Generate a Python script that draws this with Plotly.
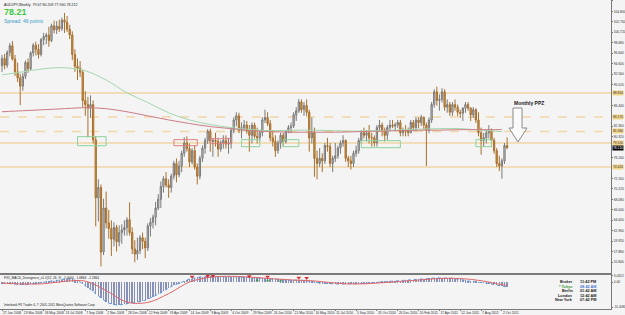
import pandas as pd
import plotly.graph_objects as go

# ---------------- data ----------------
week_start = "2008-01-27"
n_weeks = 195
weeks = pd.date_range(week_start, periods=n_weeks, freq="7D")

opens = [94.2, 95.6, 94.3, 96.8, 98.1, 95.5, 93.0, 91.8, 90.2, 92.1,
         94.8, 93.6, 96.7, 98.2, 97.4, 96.4, 99.3, 99.9, 100.2, 99.1,
         102.0, 101.2, 101.9, 101.4, 103.1, 102.7, 101.3, 100.2, 96.4, 94.1,
         93.7, 92.9, 87.4, 86.6, 85.9, 86.6, 79.7, 68.4, 70.4, 57.8,
         66.4, 63.5, 62.4, 60.3, 62.6, 59.8, 61.6, 62.1, 62.6, 64.1,
         61.6, 58.4, 57.4, 58.1, 60.6, 59.9, 58.6, 62.9, 63.6, 64.6,
         66.4, 68.1, 70.6, 72.1, 70.9, 70.4, 72.6, 75.1, 72.9, 74.6,
         77.1, 79.1, 78.0, 75.4, 77.6, 74.4, 72.6, 76.1, 78.1, 79.6,
         81.4, 79.4, 79.6, 79.4, 77.9, 79.1, 79.6, 78.9, 79.1, 81.6,
         83.6, 84.4, 81.6, 82.1, 82.6, 81.4, 80.6, 82.6, 80.4, 80.1,
         81.1, 83.6, 84.1, 82.9, 80.1, 79.4, 77.6, 79.1, 80.6, 79.4,
         81.4, 82.1, 82.4, 84.6, 85.4, 87.1, 85.6, 86.4, 85.1, 80.1,
         81.1, 76.1, 75.1, 76.1, 75.6, 78.6, 78.4, 75.1, 76.1, 76.6,
         78.1, 79.1, 79.6, 76.1, 75.6, 75.1, 77.1, 77.6, 79.6, 81.1,
         80.6, 81.1, 80.1, 80.1, 79.1, 82.1, 82.6, 81.6, 80.6, 82.1,
         82.6, 82.4, 82.6, 83.1, 81.1, 81.6, 81.4, 81.1, 83.1, 82.1,
         83.6, 83.1, 84.1, 82.6, 81.6, 83.6, 86.6, 89.1, 87.4, 87.6,
         89.1, 86.1, 86.6, 85.1, 86.6, 86.1, 85.1, 84.9, 85.9, 86.6,
         85.9, 84.6, 85.6, 83.6, 81.1, 79.6, 80.1, 81.1, 81.4, 79.6,
         77.6, 75.1, 74.6, 75.6, 78.6]
highs = [96.3, 96.5, 97.2, 98.6, 99.0, 96.3, 94.8, 92.6, 92.8, 95.2,
         95.6, 97.0, 98.6, 98.9, 98.4, 99.6, 100.6, 100.6, 101.8, 102.4,
         103.0, 102.9, 103.2, 103.6, 104.5, 103.9, 102.2, 100.9, 97.4, 95.6,
         95.1, 93.4, 89.2, 88.1, 88.4, 87.4, 80.4, 72.0, 71.0, 68.2,
         69.6, 66.0, 64.0, 63.6, 63.1, 63.0, 63.2, 64.0, 64.6, 67.5,
         62.6, 60.1, 60.6, 61.1, 61.6, 60.6, 63.4, 64.4, 65.1, 67.6,
         69.1, 71.6, 72.6, 73.4, 72.0, 73.1, 75.6, 76.1, 75.6, 77.6,
         80.2, 80.4, 79.0, 78.1, 78.6, 75.1, 76.6, 78.6, 80.1, 81.8,
         81.9, 80.1, 81.1, 80.1, 79.6, 80.6, 80.6, 80.1, 82.1, 84.1,
         85.1, 85.0, 83.1, 83.6, 83.4, 82.6, 83.1, 83.1, 82.1, 81.6,
         84.1, 85.6, 85.1, 83.6, 81.6, 80.6, 79.6, 81.1, 81.1, 81.6,
         82.6, 83.1, 85.1, 86.1, 87.7, 87.6, 87.1, 87.6, 85.6, 84.1,
         82.1, 77.6, 78.1, 77.1, 79.1, 80.1, 79.1, 76.6, 79.1, 78.6,
         79.6, 80.6, 79.8, 76.6, 76.6, 77.6, 78.6, 80.1, 81.6, 82.1,
         81.6, 82.6, 81.1, 80.6, 82.6, 83.6, 83.1, 82.1, 82.6, 83.6,
         83.6, 83.1, 83.6, 83.6, 82.1, 82.6, 82.1, 83.6, 83.6, 84.1,
         84.1, 84.6, 84.3, 83.1, 84.1, 87.1, 89.6, 90.1, 88.6, 89.8,
         89.6, 87.6, 87.1, 87.1, 87.6, 86.6, 85.6, 86.1, 87.1, 87.1,
         86.1, 86.1, 85.9, 85.1, 82.1, 81.1, 81.6, 82.6, 81.9, 80.1,
         78.1, 76.6, 76.1, 79.1, 80.2]
lows = [93.0, 93.5, 93.8, 96.0, 95.2, 92.2, 91.0, 86.5, 89.3, 91.6,
        92.8, 93.2, 96.0, 96.2, 95.6, 96.0, 98.2, 98.4, 97.9, 98.8,
        100.5, 100.4, 100.8, 101.0, 100.6, 100.8, 99.4, 95.3, 93.0, 91.4,
        92.0, 86.1, 84.4, 80.2, 84.0, 79.0, 62.8, 63.8, 55.0, 57.2,
        62.4, 60.4, 57.0, 58.9, 57.9, 58.9, 59.4, 61.0, 61.0, 61.0,
        57.4, 55.8, 56.3, 57.4, 58.4, 56.6, 58.0, 60.8, 62.4, 63.0,
        66.0, 66.4, 69.4, 70.4, 68.4, 69.4, 72.0, 71.4, 72.4, 73.4,
        76.4, 77.4, 74.4, 74.9, 73.9, 71.0, 72.0, 75.4, 77.0, 78.9,
        77.4, 76.4, 78.4, 76.4, 77.4, 78.0, 78.0, 77.0, 78.0, 81.0,
        82.4, 81.0, 80.0, 81.4, 80.9, 77.4, 79.0, 80.0, 79.0, 79.4,
        80.4, 83.0, 82.4, 79.4, 78.4, 76.4, 77.0, 78.0, 78.4, 79.0,
        81.0, 81.0, 82.0, 83.4, 85.0, 85.0, 84.4, 84.4, 77.4, 79.0,
        72.5, 72.0, 74.4, 73.4, 75.0, 77.4, 74.4, 73.4, 75.4, 76.0,
        77.0, 78.4, 75.4, 74.4, 73.9, 74.4, 76.4, 77.0, 79.0, 80.0,
        79.4, 79.0, 78.4, 78.4, 78.4, 81.4, 80.4, 79.4, 79.7, 81.4,
        82.0, 81.4, 82.0, 80.4, 80.4, 80.4, 80.4, 81.0, 81.4, 81.4,
        82.0, 82.4, 81.8, 74.6, 81.0, 83.0, 86.0, 86.4, 85.4, 87.0,
        85.4, 85.0, 84.4, 84.4, 85.4, 84.4, 84.0, 83.4, 85.0, 85.4,
        83.4, 84.0, 83.0, 80.4, 76.8, 78.4, 79.0, 80.0, 78.4, 77.0,
        74.4, 73.6, 72.1, 75.0, 77.9]
closes = [95.6, 94.3, 96.8, 98.1, 95.5, 93.0, 91.8, 90.2, 92.1, 94.8,
          93.6, 96.7, 98.2, 97.4, 96.4, 99.3, 99.9, 100.2, 99.1, 102.0,
          101.2, 101.9, 101.4, 103.1, 102.7, 101.3, 100.2, 96.4, 94.1, 93.7,
          92.9, 87.4, 86.6, 85.9, 86.6, 79.7, 68.4, 70.4, 57.8, 66.4,
          63.5, 62.4, 60.3, 62.6, 59.8, 61.6, 62.1, 62.6, 64.1, 61.6,
          58.4, 57.4, 58.1, 60.6, 59.9, 58.6, 62.9, 63.6, 64.6, 66.4,
          68.1, 70.6, 72.1, 70.9, 70.4, 72.6, 75.1, 72.9, 74.6, 77.1,
          79.1, 78.0, 75.4, 77.6, 74.4, 72.6, 76.1, 78.1, 79.6, 81.4,
          79.4, 79.6, 79.4, 77.9, 79.1, 79.6, 78.9, 79.1, 81.6, 83.6,
          84.4, 81.6, 82.1, 82.6, 81.4, 80.6, 82.6, 80.4, 80.1, 81.1,
          83.6, 84.1, 82.9, 80.1, 79.4, 77.6, 79.1, 80.6, 79.4, 81.4,
          82.1, 82.4, 84.6, 85.4, 87.1, 85.6, 86.4, 85.1, 80.1, 81.1,
          76.1, 75.1, 76.1, 75.6, 78.6, 78.4, 75.1, 76.1, 76.6, 78.1,
          79.1, 79.6, 76.1, 75.6, 75.1, 77.1, 77.6, 79.6, 81.1, 80.6,
          81.1, 80.1, 80.1, 79.1, 82.1, 82.6, 81.6, 80.6, 82.1, 82.6,
          82.4, 82.6, 83.1, 81.1, 81.6, 81.4, 81.1, 83.1, 82.1, 83.6,
          83.1, 84.1, 82.6, 81.6, 83.6, 86.6, 89.1, 87.4, 87.6, 89.1,
          86.1, 86.6, 85.1, 86.6, 86.1, 85.1, 84.9, 85.9, 86.6, 85.9,
          84.6, 85.6, 83.6, 81.1, 79.6, 80.1, 81.1, 81.4, 79.6, 77.6,
          75.1, 74.6, 75.6, 78.6, 78.21]

# moving averages, read every 8 weeks
ma_step = 8
ma_green = [92.4, 93.0, 93.6, 93.8, 93.2, 91.4, 88.9, 87.0, 85.0, 83.6,
            82.7, 82.1, 81.7, 81.5, 81.6, 81.6, 81.5, 81.4, 81.5, 81.6,
            81.8, 81.9, 81.9, 81.6, 81.3]
ma_red = [85.2, 85.4, 85.6, 85.8, 86.0, 85.8, 85.2, 84.4, 83.6, 82.9,
          82.3, 81.9, 81.5, 81.3, 81.2, 81.2, 81.2, 81.3, 81.4, 81.5,
          81.6, 81.6, 81.7, 81.7, 81.7]

# price-axis tick labels
price_ticks = [106.84, 104.80, 102.76, 100.72, 98.68, 96.64, 94.60, 92.56, 90.52,
               86.44, 82.36, 80.32, 76.24, 72.16, 70.12, 68.08, 66.04, 64.00,
               61.96, 59.92, 57.88, 55.84]

# horizontal levels
level_prices = [88.85, 84.17, 81.36, 79.10, 74.42]
level_dash = ["solid", "dash", "dash", "solid", "solid"]
current_price = 78.21

# drawn zones: (first week index, last week index, top price, bottom price, colour)
zone_start = [29, 66, 80, 92, 108, 138, 182]
zone_end = [40, 75, 88, 99, 114, 153, 188]
zone_top = [80.33, 79.75, 79.94, 79.75, 79.75, 79.55, 79.75]
zone_bottom = [78.57, 78.57, 78.97, 78.38, 78.38, 78.18, 78.38]
zone_kind = ["green", "red", "red", "green", "green", "green", "green"]

# MACD main (weekly)
macd_main = [-0.5, -0.6, -0.7, -0.7, -0.8, -1.0, -1.2, -1.3,
             -1.3, -1.2, -1.1, -0.9, -0.8, -0.6, -0.5,
             -0.3, -0.1, 0.1, 0.3, 0.4, 0.6, 0.7, 0.8,
             1.0, 1.3, 1.5, 1.5,
             1.2, 0.8, 0.4, 0.0,
             -0.8, -1.6, -2.5, -3.5,
             -4.3, -5.4, -6.4, -7.3,
             -8.2, -9.0, -9.6,
             -10.0, -10.3, -10.4, -10.5,
             -10.3, -10.1, -9.8, -9.6,
             -9.5, -9.4, -9.2, -9.1,
             -8.7, -8.3, -7.8, -7.3,
             -6.8, -6.2, -5.6, -5.0,
             -4.2, -3.4, -2.7,
             -2.1, -1.5, -1.0, -0.5,
             0.0, 0.5, 1.0, 1.4,
             1.6, 1.9, 2.1, 2.3,
             2.4, 2.4, 2.5, 2.6, 2.6, 2.7, 2.7, 2.7,
             2.7, 2.6, 2.6, 2.5, 2.5, 2.4, 2.3,
             2.3, 2.2, 2.1, 2.1, 2.0, 1.9, 1.9, 1.8,
             1.7, 1.6, 1.5, 1.4, 1.3, 1.2, 1.0, 0.9,
             0.8, 0.8, 0.8, 0.8, 0.9, 0.9, 0.9,
             0.8, 0.7, 0.5, 0.3, 0.1, -0.1, -0.3, -0.5,
             -0.6, -0.7, -0.7, -0.8, -0.8, -0.9, -0.9, -0.9, -0.9, -0.9, -0.9, -0.9,
             -0.8, -0.8, -0.7, -0.6, -0.6, -0.5,
             -0.4, -0.3, -0.2, -0.1, 0.0, 0.1, 0.2, 0.2, 0.3, 0.3, 0.4, 0.4, 0.5,
             0.6, 0.7, 0.8, 0.9, 1.0, 1.1, 1.2, 1.3, 1.4, 1.5, 1.7, 1.8,
             1.9, 1.9, 1.9, 1.9, 1.9, 1.8, 1.8,
             1.7, 1.5, 1.4, 1.2, 1.0, 0.8, 0.5,
             0.3, 0.2, 0.1, -0.1, -0.2, -0.4, -0.5,
             -0.7, -0.9, -1.1, -1.4, -1.7, -1.9, -2.1, -2.3]
# MACD signal, read every 8 weeks (plus last week)
macd_signal = [-0.5, -0.9, -0.8, 0.3, 0.4, -3.9, -9.2, -9.3, -5.3, 0.0,
               2.2, 2.6, 2.2, 1.5, 0.9, 0.5, -0.5, -0.9, -0.5, 0.2,
               0.9, 1.6, 1.6, 0.6, -1.2, -1.5]
# divergence arrows drawn by the indicator
div_red_weeks = [73, 79, 81, 95, 102, 114, 117]
div_red_vals = [2.4, 2.8, 2.8, 2.6, 2.4, 2.0, 1.8]
div_green_weeks = [98, 102, 107]
div_green_vals = [0.8, 0.7, 0.6]
macd_ticks = [3.0412, 0.0, -11.4082]
macd_tick_text = ["3.0412", "0.00", "-11.4082"]

header_text = "AUDJPY,Weekly  79.67 80.209 77.940 78.212"
bid_text = "78.21"
spread_text = "Spread: 46 points"
indicator_text = "FX5_MACD_Divergence_v1.1(12, 26, 9)  -1.0000  -1.6864  -2.2864"
copyright_text = "Interbank FX Trader 4, \u00a9 2001-2011 MetaQuotes Software Corp."
clock_places = ["Broker", "* Tokyo", "Berlin", "London", "New York"]
clock_times = ["11:42 PM", "08:42 AM", "01:42 AM", "12:42 AM", "07:42 PM"]

# ---------------- layout geometry ----------------
W, H = 625, 315
ML, MR, MT, MB = 0, 14, 0, 6
PW, PH = W - ML - MR, H - MT - MB
main_bottom_px = 273
macd_top_px = 275

def py(px_y):
    return (PH - px_y) / PH

def pxx(px_x):
    return px_x / PW

week_ms = 7 * 24 * 3600 * 1000
t0 = pd.Timestamp(week_start)
x_range = [t0 - pd.Timedelta(days=7 * 0.77), t0 + pd.Timedelta(days=7 * 233.9)]
signal_x = list(weeks[::ma_step]) + [weeks[-1]]

FONT = "Liberation Sans"
TF = 3.3  # tick font size
fig = go.Figure()

fig.add_trace(go.Candlestick(
    x=weeks, open=opens, high=highs, low=lows, close=closes,
    increasing=dict(line=dict(color="#7a7a7a", width=1), fillcolor="#cbcbcb"),
    decreasing=dict(line=dict(color="#a8702c", width=1), fillcolor="#cf9245"),
    whiskerwidth=0, showlegend=False, hoverinfo="skip", xaxis="x", yaxis="y"))

ma_x = weeks[::ma_step]
fig.add_trace(go.Scatter(x=ma_x, y=ma_green, mode="lines", line=dict(color="#a3d8ac", width=1, shape="spline"),
                         showlegend=False, hoverinfo="skip", xaxis="x", yaxis="y"))
fig.add_trace(go.Scatter(x=ma_x, y=ma_red, mode="lines", line=dict(color="#cc7c86", width=1, shape="spline"),
                         showlegend=False, hoverinfo="skip", xaxis="x", yaxis="y"))

# MACD panel
fig.add_trace(go.Bar(x=weeks, y=macd_main, width=week_ms * 0.16, marker=dict(color="#8790b8", line=dict(width=0)),
                     showlegend=False, hoverinfo="skip", xaxis="x2", yaxis="y2"))
fig.add_trace(go.Scatter(x=weeks, y=macd_main, mode="lines", line=dict(color="#5a98dc", width=1, dash="dot"),
                         showlegend=False, hoverinfo="skip", xaxis="x2", yaxis="y2"))
fig.add_trace(go.Scatter(x=signal_x, y=macd_signal, mode="lines",
                         line=dict(color="#e06868", width=1, shape="spline"),
                         showlegend=False, hoverinfo="skip", xaxis="x2", yaxis="y2"))
fig.add_trace(go.Scatter(x=[weeks[i] for i in div_red_weeks], y=div_red_vals, mode="markers",
                         marker=dict(symbol="triangle-down", size=4, color="#d83030"),
                         showlegend=False, hoverinfo="skip", xaxis="x2", yaxis="y2"))
fig.add_trace(go.Scatter(x=[weeks[i] for i in div_green_weeks], y=div_green_vals, mode="markers",
                         marker=dict(symbol="triangle-up", size=3, color="#30a040"),
                         showlegend=False, hoverinfo="skip", xaxis="x2", yaxis="y2"))

shapes = []
for p, d in zip(level_prices, level_dash):
    shapes.append(dict(type="line", xref="x domain", yref="y", x0=0, x1=1, y0=p, y1=p,
                       line=dict(color="#f1d6a6", width=1.5, dash=d), layer="below"))
zone_col = {"green": "#8cd29a", "red": "#e08080"}
for s, e, top, bot, k in zip(zone_start, zone_end, zone_top, zone_bottom, zone_kind):
    shapes.append(dict(type="rect", xref="x", yref="y", x0=weeks[s], x1=weeks[e], y0=bot, y1=top,
                       line=dict(color=zone_col[k], width=1), fillcolor="rgba(0,0,0,0)", layer="above"))
# outlined down arrow (Monthly PPZ)
ax0, ax1, ax2, ax3 = pxx(509), pxx(513), pxx(522), pxx(527)
axm = pxx(518)
ay0, ay1, ay2 = py(108), py(128), py(142)
shapes.append(dict(type="path", xref="paper", yref="paper",
                   path=f"M {ax1} {ay0} L {ax2} {ay0} L {ax2} {ay1} L {ax3} {ay1} L {axm} {ay2} L {ax0} {ay1} L {ax1} {ay1} Z",
                   line=dict(color="#8a8a8a", width=1), fillcolor="rgba(255,255,255,0.6)"))

annotations = []
for p in level_prices:
    annotations.append(dict(xref="paper", yref="y", x=1.0, y=p, xanchor="left", yanchor="middle",
                            text=f"{p:.3f}", showarrow=False, bgcolor="#f3d58a", borderpad=0,
                            font=dict(size=TF, color="#333", family=FONT), xshift=1))
annotations.append(dict(xref="paper", yref="y", x=1.0, y=current_price, xanchor="left", yanchor="middle",
                        text=f"{current_price:.3f}", showarrow=False, bgcolor="#000000", borderpad=0,
                        font=dict(size=TF, color="#ffffff", family=FONT), xshift=1))
annotations.append(dict(xref="paper", yref="paper", x=pxx(2), y=py(1), xanchor="left", yanchor="top",
                        text=header_text, showarrow=False, font=dict(size=3.6, color="#202020", family=FONT)))
annotations.append(dict(xref="paper", yref="paper", x=pxx(2), y=py(5), xanchor="left", yanchor="top",
                        text=f"<b>{bid_text}</b>", showarrow=False, font=dict(size=9, color="#3cc83c", family=FONT)))
annotations.append(dict(xref="paper", yref="paper", x=pxx(2), y=py(16), xanchor="left", yanchor="top",
                        text=spread_text, showarrow=False, font=dict(size=5, color="#3a9ac8", family=FONT)))
annotations.append(dict(xref="paper", yref="paper", x=pxx(512), y=py(103), xanchor="left", yanchor="middle",
                        text="<b>Monthly PPZ</b>", showarrow=False, font=dict(size=5, color="#202020", family=FONT)))
annotations.append(dict(xref="paper", yref="paper", x=pxx(2), y=py(278), xanchor="left", yanchor="middle",
                        text=indicator_text, showarrow=False, font=dict(size=3.2, color="#202020", family=FONT)))
annotations.append(dict(xref="paper", yref="paper", x=pxx(2), y=py(305), xanchor="left", yanchor="middle",
                        text=copyright_text, showarrow=False, font=dict(size=3.2, color="#202020", family=FONT)))
for k, (pl, tm) in enumerate(zip(clock_places, clock_times)):
    yy = py(282 + 4.5 * k)
    col = "#3aa03a" if k == 1 else "#202020"
    tcol = "#4a7ad0" if k == 1 else "#202020"
    annotations.append(dict(xref="paper", yref="paper", x=pxx(575), y=yy, xanchor="right", yanchor="middle",
                            text=f"<b>{pl}</b>", showarrow=False, font=dict(size=3.8, color=col, family=FONT)))
    annotations.append(dict(xref="paper", yref="paper", x=pxx(578), y=yy, xanchor="left", yanchor="middle",
                            text=f"<b>{tm}</b>", showarrow=False, font=dict(size=3.8, color=tcol, family=FONT)))

axis_common = dict(showgrid=False, zeroline=False, showline=True, linecolor="#7a7a7a", linewidth=1, mirror=True,
                   automargin=False)
fig.update_layout(
    width=W, height=H, margin=dict(l=ML, r=MR, t=MT, b=MB),
    paper_bgcolor="#f4f4f4", plot_bgcolor="#f4f4f4",
    font=dict(family=FONT, size=TF, color="#303030"),
    showlegend=False, bargap=0,
    xaxis=dict(type="date", range=x_range, domain=[0, 1], anchor="y", showticklabels=False, ticks="",
               rangeslider=dict(visible=False), matches="x2", **axis_common),
    xaxis2=dict(type="date", range=x_range, domain=[0, 1], anchor="y2", tickvals=list(weeks[::8]),
                tickformat="%-d %b %Y", ticklabelposition="outside right", tickangle=0, ticks="outside", ticklen=1,
                tickcolor="#7a7a7a", tickfont=dict(size=TF, color="#303030", family=FONT), **axis_common),
    yaxis=dict(domain=[py(main_bottom_px), 1], range=[53.7, 107.03], side="right", anchor="x",
               tickvals=price_ticks, tickformat=".3f", ticks="outside", ticklen=1, tickcolor="#7a7a7a",
               tickfont=dict(size=TF, color="#303030", family=FONT), **axis_common),
    yaxis2=dict(domain=[0, py(macd_top_px)], range=[-12.3, 3.2], side="right", anchor="x2",
                tickvals=macd_ticks, ticktext=macd_tick_text, ticks="outside",
                ticklen=1, tickcolor="#7a7a7a", tickfont=dict(size=TF, color="#303030", family=FONT), **axis_common),
    shapes=shapes, annotations=annotations,
)
fig.write_html("out.html")
